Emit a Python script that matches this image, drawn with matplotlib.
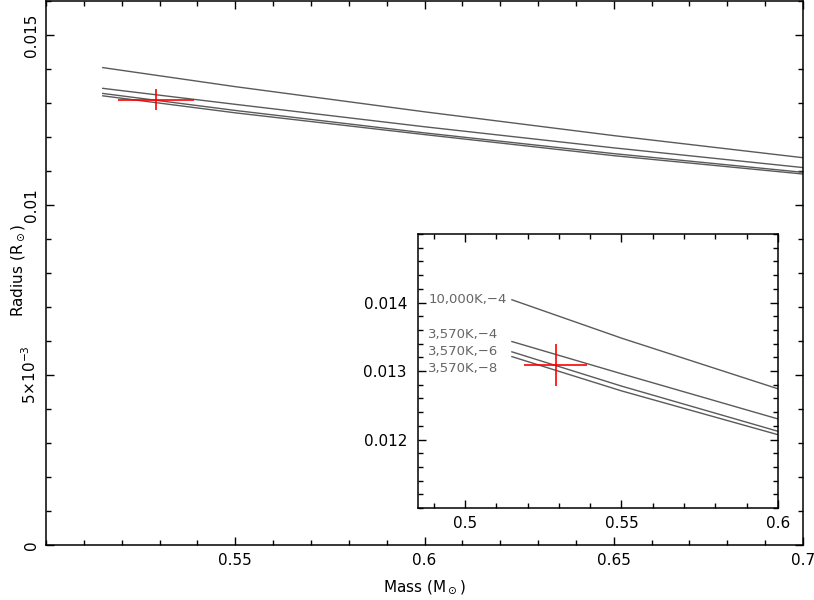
import matplotlib
matplotlib.use("Agg")
import matplotlib.pyplot as plt
from matplotlib.ticker import MultipleLocator

# cooling tracks, radius (R_sun) against mass (M_sun)
mass = [0.515, 0.55, 0.6, 0.65, 0.7]
r_10000_4 = [0.01404, 0.01348, 0.01274, 0.01204, 0.01139]
r_3570_4 = [0.01343, 0.01296, 0.01230, 0.01168, 0.01110]
r_3570_6 = [0.01328, 0.01278, 0.01212, 0.01151, 0.01096]
r_3570_8 = [0.01321, 0.01271, 0.01207, 0.01145, 0.01091]
tracks = [r_10000_4, r_3570_4, r_3570_6, r_3570_8]
track_names = ["10,000K,\u22124", "3,570K,\u22124", "3,570K,\u22126", "3,570K,\u22128"]

# measured point
obs_m, obs_m_err = 0.529, 0.010
obs_r, obs_r_err = 0.01309, 0.00031

main_xticks = [0.55, 0.6, 0.65, 0.7]
main_xlabels = ["0.55", "0.6", "0.65", "0.7"]
main_yticks = [0, 0.005, 0.01, 0.015]
main_ylabels = ["0", "5\u00d710$^{-3}$", "0.01", "0.015"]
ins_xticks = [0.5, 0.55, 0.6]
ins_xlabels = ["0.5", "0.55", "0.6"]
ins_yticks = [0.012, 0.013, 0.014]
ins_ylabels = ["0.012", "0.013", "0.014"]

line_col = "#5a5a5a"
text_col = "#666666"

fig = plt.figure(figsize=(8.14, 6.0), dpi=100)


def style(ax):
    ax.tick_params(which="both", direction="in", top=True, right=True,
                   width=1.0, labelsize=11, colors="black")
    ax.tick_params(which="major", length=6)
    ax.tick_params(which="minor", length=3.5)
    for s in ax.spines.values():
        s.set_linewidth(1.1)


# main panel
ax = fig.add_axes([0.0565, 0.0917, 0.930, 0.9067])
for r in tracks:
    ax.plot(mass, r, color=line_col, lw=1.0)
ax.errorbar(obs_m, obs_r, xerr=obs_m_err, yerr=obs_r_err, color="red",
            lw=1.2, capsize=0, fmt="none")
ax.set_xlim(0.5, 0.7)
ax.set_ylim(0, 0.016)
ax.set_xticks(main_xticks)
ax.set_xticklabels(main_xlabels)
ax.set_yticks(main_yticks)
ax.set_yticklabels(main_ylabels, rotation=90, va="center")
ax.xaxis.set_minor_locator(MultipleLocator(0.01))
ax.yaxis.set_minor_locator(MultipleLocator(0.001))
style(ax)
ax.tick_params(axis="x", pad=6)
ax.tick_params(axis="y", pad=5)
fig.text(0.521, 0.022, "Mass (M$_\\odot$)", fontsize=11, ha="center", va="center")
fig.text(0.022, 0.55, "Radius (R$_\\odot$)", fontsize=11, ha="center", va="center",
         rotation=90)

# zoomed inset
ins = fig.add_axes([0.5135, 0.1533, 0.4423, 0.4567])
for r, name in zip(tracks, track_names):
    ins.plot(mass, r, color=line_col, lw=1.0)
ins.errorbar(obs_m, obs_r, xerr=obs_m_err, yerr=obs_r_err, color="red",
             lw=1.2, capsize=0, fmt="none")
label_y = [0.01404, 0.01354, 0.01328, 0.01303]
for y, name in zip(label_y, track_names):
    ins.text(0.4883, y, name, ha="left", va="center", color=text_col,
             fontsize=9.5)
ins.set_xlim(0.485, 0.6)
ins.set_ylim(0.011, 0.015)
ins.set_xticks(ins_xticks)
ins.set_xticklabels(ins_xlabels)
ins.set_yticks(ins_yticks)
ins.set_yticklabels(ins_ylabels)
ins.xaxis.set_minor_locator(MultipleLocator(0.01))
ins.yaxis.set_minor_locator(MultipleLocator(0.0002))
style(ins)
ins.tick_params(axis="x", pad=6)
ins.tick_params(axis="y", pad=8)

fig.savefig("out.png", dpi=100)
